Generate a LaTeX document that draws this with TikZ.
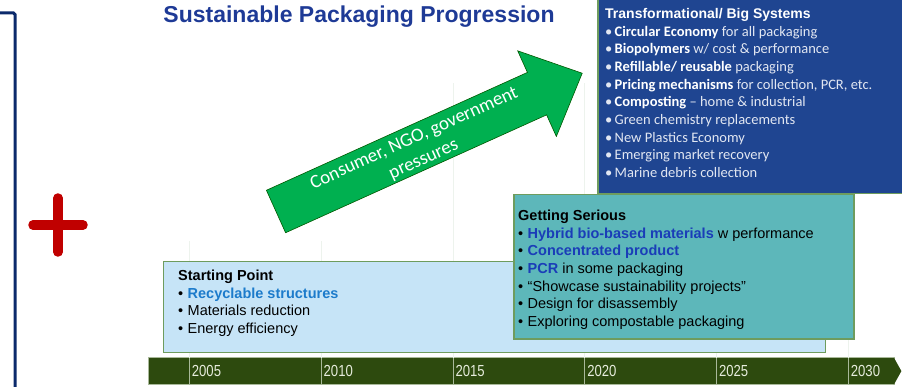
\documentclass[tikz,border=0pt]{standalone}
\usepackage{fontspec}
\setmainfont{Liberation Sans}
\newfontfamily\calibri{Carlito}
\newfontfamily\narrowfont[FakeStretch=0.82]{Liberation Sans}
\usetikzlibrary{positioning}

\definecolor{navyline}{HTML}{0B2A6B}
\definecolor{plusred}{HTML}{C00000}
\definecolor{titleblue}{HTML}{1E3A96}
\definecolor{arrowgreen}{HTML}{00B050}
\definecolor{bigblue}{HTML}{1F4591}
\definecolor{seriousteal}{HTML}{5DB7BA}
\definecolor{startblue}{HTML}{C6E4F7}
\definecolor{boxedge}{HTML}{6E9C5E}
\definecolor{bargreen}{HTML}{2D4A0E}
\definecolor{barline}{HTML}{A9B99A}
\definecolor{gridline}{HTML}{EDF3ED}
\definecolor{linkblue}{HTML}{1A3DB8}
\definecolor{recblue}{HTML}{1C7BCB}
\definecolor{paletext}{HTML}{E2E7F2}
\definecolor{yeartext}{HTML}{E6ECDC}

\newcommand{\bul}{\makebox[9.5pt][l]{\textbullet}}
\newcommand{\whitebold}[1]{{\bfseries\color{white}#1}}

\begin{document}
\begin{tikzpicture}[x=1pt,y=1pt,
    stage/.style={draw=boxedge,line width=1pt,anchor=north west,inner sep=0pt},
    stagetext/.style={anchor=north west,inner sep=0pt,align=left,
        font=\fontsize{14.5}{17.6}\selectfont},
    yearcell/.style={draw=barline,fill=bargreen,line width=0.8pt,minimum height=27pt,
        outer sep=0pt,inner xsep=2.5pt,inner ysep=0pt,align=left,text=yeartext,
        font=\narrowfont\fontsize{16}{16}\selectfont},
    pressarrow/.style={fill=arrowgreen,draw=green!35!black,line width=0.6pt},
    pressuretext/.style={rotate=24.3,inner sep=0pt,align=center,text=white,
        font=\calibri\fontsize{19}{23}\selectfont}]
    \useasboundingbox (0,0) rectangle (902,386);

    % time line
    \matrix (timeline) [anchor=north west,inner sep=0pt,column sep=-1pt] at (148,29)
    {
        \node[yearcell,text width=36pt] (y0) {}; &
        \node[yearcell,text width=127pt] (y2005) {2005}; &
        \node[yearcell,text width=127pt] (y2010) {2010}; &
        \node[yearcell,text width=127pt] (y2015) {2015}; &
        \node[yearcell,text width=127pt] (y2020) {2020}; &
        \node[yearcell,text width=127pt] (y2025) {2025}; &
        \node[yearcell,text width=41pt] (y2030) {2030}; \\
    };
    \fill[bargreen] ([xshift=-0.5pt]y2030.north east) -- ([xshift=7pt]y2030.east)
        -- ([xshift=-0.5pt]y2030.south east) -- cycle;

    % faint grid
    \foreach \yr/\gtop in {2005/117,2010/117,2015/275,2020/275,2025/275,2030/162}
        \draw[gridline,line width=0.8pt] (y\yr.north west) -- ++(0,\gtop);

    % left bracket and plus
    \draw[navyline,line width=3pt,rounded corners=1.5pt] (-2,373) -- (15,373) -- (15,-3);
    \draw[plusred,line width=9.5pt,line cap=round] (58,188) -- (58,134) (33,161) -- (83,161);

    \node[font=\bfseries\fontsize{23}{23}\selectfont,text=titleblue,inner sep=0pt] (title)
        at (359,369.5) {Sustainable Packaging Progression};

    % stages
    \node[stage,fill=startblue,minimum width=662pt,minimum height=91pt] (startbox) at (163,125) {};
    \node[stagetext] (start) at ([shift={(15pt,-9pt)}]startbox.north west)
        {\textbf{Starting Point}\\
         \bul\textcolor{recblue}{\textbf{Recyclable structures}}\\
         \bul Materials reduction\\
         \bul Energy efficiency};

    \node[stage,fill=seriousteal,line width=1.5pt,minimum width=340pt,minimum height=144pt] (seriousbox) at (513,192) {};
    \node[stagetext] (serious) at ([shift={(5pt,-16pt)}]seriousbox.north west)
        {\textbf{Getting Serious}\\
         \bul\textcolor{linkblue}{\textbf{Hybrid bio-based materials}} w performance\\
         \bul\textcolor{linkblue}{\textbf{Concentrated product}}\\
         \bul\textcolor{linkblue}{\textbf{PCR}} in some packaging\\
         \bul“Showcase sustainability projects”\\
         \bul Design for disassembly\\
         \bul Exploring compostable packaging};

    \node[stage,fill=bigblue,line width=1.5pt,minimum width=312pt,minimum height=200pt] (bigbox) at (597,393) {};
    \node[stagetext,text=paletext,font=\calibri\fontsize{14.5}{17.7}\selectfont] (bigsys)
        at ([shift={(8pt,-15pt)}]bigbox.north west)
        {{\rmfamily\whitebold{\fontsize{14}{17.7}\selectfont Transformational/ Big Systems}}\\
         \bul\whitebold{Circular Economy} for all packaging\\
         \bul\whitebold{Biopolymers} w/ cost \& performance\\
         \bul\whitebold{Refillable/ reusable} packaging\\
         \bul\whitebold{Pricing mechanisms} for collection, PCR, etc.\\
         \bul\whitebold{Composting} \textendash{} home \& industrial\\
         \bul Green chemistry replacements\\
         \bul New Plastics Economy\\
         \bul Emerging market recovery\\
         \bul Marine debris collection};

    % pressure arrow
    \begin{scope}[shift={(276,174.5)},rotate=24.3]
        \draw[pressarrow] (0,23.3) -- (286.4,23.3) -- (286.4,47) -- (336,0)
            -- (286.4,-47) -- (286.4,-23.3) -- (0,-23.3) -- cycle;
        \node[pressuretext] (pressure) at (156,-2) {Consumer, NGO, government\\pressures};
    \end{scope}
\end{tikzpicture}
\end{document}
